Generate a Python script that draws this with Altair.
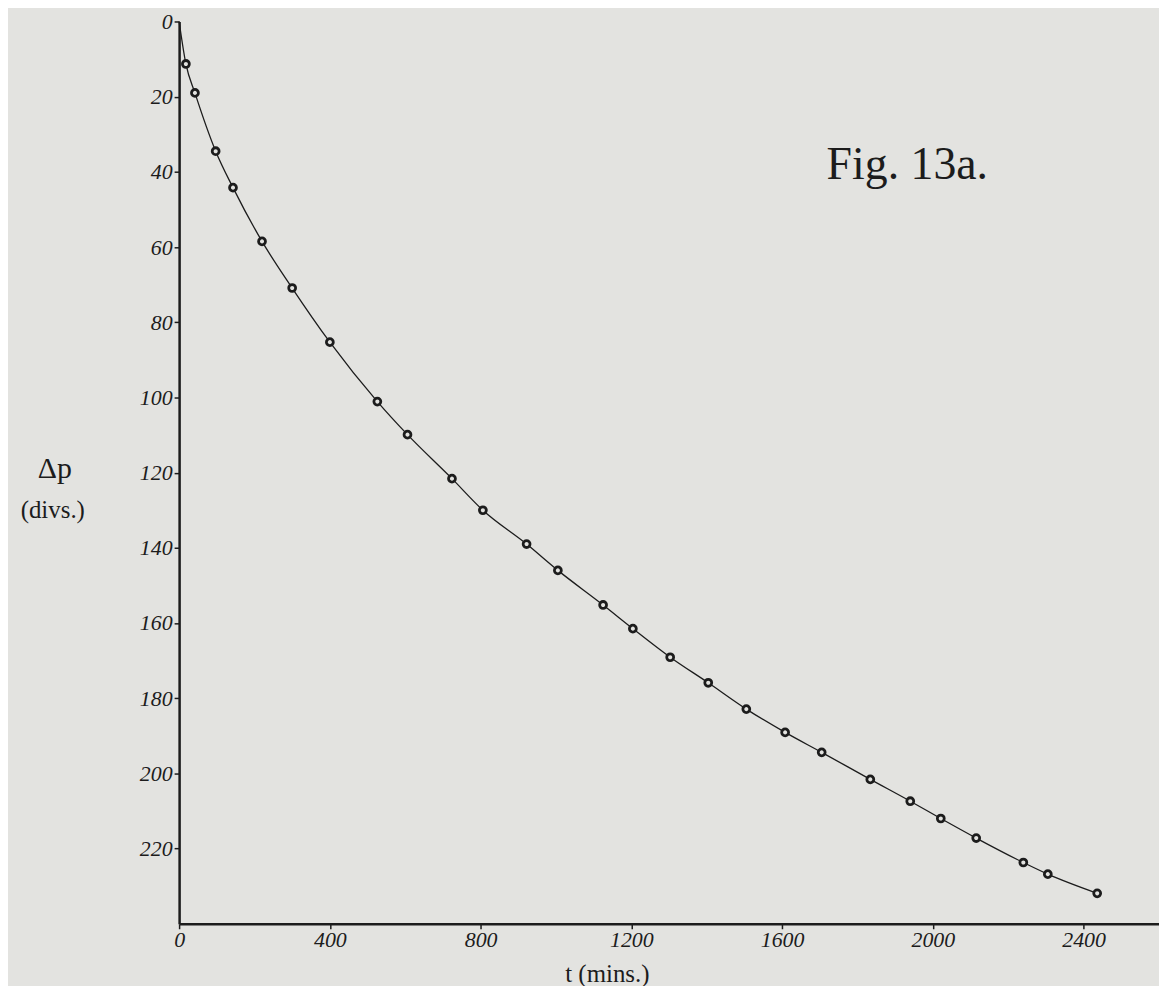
import altair as alt
import pandas as pd

# Data (t in minutes, Δp in divisions)
t_mins = [18, 42, 97, 143, 220, 300, 400, 526, 606, 724, 806, 922, 1005, 1125,
          1204, 1303, 1404, 1505, 1608, 1705, 1834, 1940, 2021, 2115, 2240, 2305, 2436]
dp_divs = [11.3, 19.0, 34.5, 44.2, 58.5, 70.9, 85.3, 101.1, 109.9, 121.6, 130.0, 139.0,
           146.0, 155.2, 161.5, 169.1, 175.9, 182.9, 189.1, 194.4, 201.6, 207.4, 212.0,
           217.2, 223.7, 226.8, 231.9]
curve_t = [0] + t_mins
curve_dp = [0.0] + dp_divs

x_ticks = [0, 400, 800, 1200, 1600, 2000, 2400]
y_ticks = [0, 20, 40, 60, 80, 100, 120, 140, 160, 180, 200, 220]

BG = "#e3e3e0"
INK = "#1c1c1c"
FONT = "Liberation Serif"

pts = pd.DataFrame({"t": t_mins, "dp": dp_divs})
crv = pd.DataFrame({"t": curve_t, "dp": curve_dp})

x_enc = alt.X(
    "t:Q",
    scale=alt.Scale(domain=[0, 2600], nice=False, zero=False),
    axis=alt.Axis(
        values=x_ticks, grid=False, title="t (mins.)", format="d",
        titleFont=FONT, titleFontSize=25, titleFontWeight="normal", titleColor=INK,
        titleX=430, titleY=50, titleBaseline="middle", titleAnchor="start", titleAlign="center",
        labelFont=FONT, labelFontStyle="italic", labelFontSize=22, labelColor=INK,
        labelPadding=1, tickSize=5, tickWidth=1.5, tickColor=INK,
        domainColor=INK, domainWidth=2.5, labelFlush=False,
    ),
)
y_enc = alt.Y(
    "dp:Q",
    scale=alt.Scale(domain=[0, 240], reverse=True, nice=False, zero=False),
    axis=alt.Axis(
        values=y_ticks, grid=False, title=None, format="d",
        labelFont=FONT, labelFontStyle="italic", labelFontSize=22, labelColor=INK,
        labelPadding=2, tickSize=5, tickWidth=1.5, tickColor=INK,
        domainColor=INK, domainWidth=2.5, labelFlush=False,
    ),
)

line = alt.Chart(crv).mark_line(
    interpolate="monotone", color=INK, strokeWidth=1.3
).encode(x=x_enc, y=y_enc)

points = alt.Chart(pts).mark_point(
    shape="circle", size=48, filled=False, stroke=INK, strokeWidth=2.8, fill=BG, fillOpacity=1
).encode(x="t:Q", y="dp:Q")

fig_title = alt.Chart(pd.DataFrame({"s": ["Fig. 13a."]})).mark_text(
    font=FONT, fontSize=46, color=INK, align="center", baseline="middle"
).encode(text="s:N", x=alt.value(732), y=alt.value(144))

ytitle1 = alt.Chart(pd.DataFrame({"s": ["Δp"]})).mark_text(
    font=FONT, fontSize=30, color=INK, align="center", baseline="middle"
).encode(text="s:N", x=alt.value(-125), y=alt.value(450))

ytitle2 = alt.Chart(pd.DataFrame({"s": ["(divs.)"]})).mark_text(
    font=FONT, fontSize=25, color=INK, align="center", baseline="middle"
).encode(text="s:N", x=alt.value(-127), y=alt.value(491))

chart = alt.layer(line, points, fig_title, ytitle1, ytitle2).properties(
    width=985,
    height=907,
    background=BG,
    autosize=alt.AutoSizeParams(type="none"),
    padding={"left": 172, "top": 11, "right": 0, "bottom": 60},
).configure_view(stroke=None)

chart.save("out.html", embed_options={"renderer": "svg", "actions": False})
